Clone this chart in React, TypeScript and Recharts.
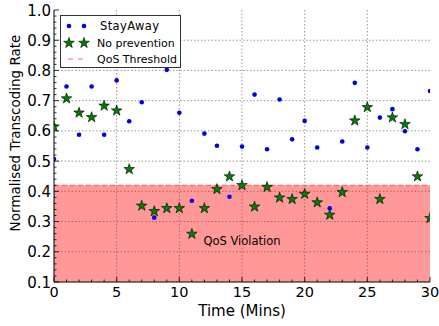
import {
  ScatterChart,
  Scatter,
  XAxis,
  YAxis,
  CartesianGrid,
  ReferenceArea,
  ReferenceLine,
  ReferenceDot,
  Legend,
} from 'recharts'

const FONT = '"DejaVu Sans", sans-serif'

const TIME = [0, 1, 2, 3, 4, 5, 6, 7, 8, 9, 10, 11, 12, 13, 14, 15, 16, 17, 18, 19, 20, 21, 22, 23, 24, 25, 26, 27, 28, 29, 30]
const STAY_AWAY = [0.507, 0.747, 0.587, 0.747, 0.587, 0.767, 0.632, 0.695, 0.313, 0.802, 0.66, 0.369, 0.591, 0.551, 0.382, 0.548, 0.72, 0.539, 0.704, 0.572, 0.633, 0.545, 0.344, 0.565, 0.759, 0.545, 0.644, 0.672, 0.599, 0.539, 0.732]
const NO_PREVENTION = [0.614, 0.707, 0.66, 0.645, 0.683, 0.667, 0.473, 0.352, 0.334, 0.344, 0.344, 0.259, 0.344, 0.407, 0.449, 0.42, 0.349, 0.414, 0.379, 0.374, 0.391, 0.363, 0.322, 0.397, 0.634, 0.678, 0.374, 0.644, 0.622, 0.449, 0.311]
const QOS_THRESHOLD = 0.42

const X_TICKS = [0, 5, 10, 15, 20, 25, 30]
const Y_TICKS = [0.1, 0.2, 0.3, 0.4, 0.5, 0.6, 0.7, 0.8, 0.9, 1.0]
const X_MINOR = TIME
const Y_MINOR = Array.from({ length: 46 }, (_, i) => +(0.1 + i * 0.02).toFixed(2))

const stayAwayData = TIME.map((t, i) => ({ t, v: STAY_AWAY[i] }))
const noPreventionData = TIME.map((t, i) => ({ t, v: NO_PREVENTION[i] }))

const isMajorX = (v: number) => X_TICKS.includes(v)
const isMajorY = (v: number) => Y_TICKS.some((m) => Math.abs(m - v) < 1e-6)

function starPoints(cx: number, cy: number, R: number, r: number) {
  const pts: string[] = []
  for (let i = 0; i < 10; i++) {
    const rad = i % 2 === 0 ? R : r
    const a = -Math.PI / 2 + (i * Math.PI) / 5
    pts.push(`${cx + rad * Math.cos(a)},${cy + rad * Math.sin(a)}`)
  }
  return pts.join(' ')
}

const Star = (p: any) => (
  <polygon points={starPoints(p.cx, p.cy, 5.6, 2.2)} fill="#008000" stroke="#000" strokeWidth={0.6} />
)
const Dot = (p: any) => <circle cx={p.cx} cy={p.cy} r={2.3} fill="#0000e6" />

const BottomTick = (p: any) => {
  const v = p.payload.value
  const major = isMajorX(v)
  return (
    <g>
      <line x1={p.x} x2={p.x} y1={p.y} y2={p.y - (major ? 5 : 2.5)} stroke="#000" strokeWidth={0.8} />
      {major && (
        <text x={p.x} y={p.y + 14.5} textAnchor="middle" fontSize={14.5} fontFamily={FONT} fill="#000">
          {v}
        </text>
      )}
    </g>
  )
}
const TopTick = (p: any) => (
  <line x1={p.x} x2={p.x} y1={p.y} y2={p.y + (isMajorX(p.payload.value) ? 5 : 2.5)} stroke="#000" strokeWidth={0.8} />
)
const LeftTick = (p: any) => {
  const v = p.payload.value
  const major = isMajorY(v)
  return (
    <g>
      <line x1={p.x} x2={p.x + (major ? 5 : 2.5)} y1={p.y} y2={p.y} stroke="#000" strokeWidth={0.8} />
      {major && (
        <text x={p.x - 3} y={p.y + 5.5} textAnchor="end" fontSize={15} fontFamily={FONT} fill="#000">
          {v.toFixed(1)}
        </text>
      )}
    </g>
  )
}
const RightTick = (p: any) => (
  <line x1={p.x} x2={p.x - (isMajorY(p.payload.value) ? 5 : 2.5)} y1={p.y} y2={p.y} stroke="#000" strokeWidth={0.8} />
)

const LegendBox = () => (
  <svg width={121} height={53} style={{ display: 'block', background: '#fff', border: '1px solid #333', boxSizing: 'border-box' }}>
    <circle cx={8} cy={10} r={2.3} fill="#0000e6" />
    <circle cx={23} cy={10} r={2.3} fill="#0000e6" />
    <text x={39} y={14} fontSize={11.5} fontFamily={FONT} letterSpacing={0.4}>StayAway</text>
    <polygon points={starPoints(8, 27, 5.6, 2.2)} fill="#008000" stroke="#000" strokeWidth={0.6} />
    <polygon points={starPoints(23, 27, 5.6, 2.2)} fill="#008000" stroke="#000" strokeWidth={0.6} />
    <text x={36} y={31} fontSize={11} fontFamily={FONT}>No prevention</text>
    <line x1={7} x2={22} y1={43} y2={43} stroke="#ff6666" strokeDasharray="5 5" />
    <text x={36} y={47} fontSize={11} fontFamily={FONT}>QoS Threshold</text>
  </svg>
)

export default function App() {
  return (
    <div style={{ position: 'absolute', left: 0, top: 0, width: 439, height: 326, background: '#fff' }}>
      <ScatterChart width={439} height={326} margin={{ top: 10, right: 9, bottom: 0, left: 0 }}>
        <XAxis
          dataKey="t"
          type="number"
          domain={[0, 30]}
          ticks={X_MINOR}
          interval={0}
          allowDataOverflow
          height={44}
          tickSize={0}
          tickMargin={0}
          tickLine={false}
          axisLine={{ stroke: '#000' }}
          tick={BottomTick}
          label={{
            content: (lp: any) => (
              <text
                x={lp.viewBox.x + lp.viewBox.width / 2}
                y={lp.viewBox.y + 34}
                textAnchor="middle"
                fontSize={15}
                fontFamily={FONT}
                fill="#000"
              >
                Time (Mins)
              </text>
            ),
          }}
        />
        <XAxis
          xAxisId="t"
          orientation="top"
          type="number"
          domain={[0, 30]}
          ticks={X_MINOR}
          interval={0}
          height={0}
          tickSize={0}
          tickMargin={0}
          tickLine={false}
          axisLine={{ stroke: '#000' }}
          tick={TopTick}
        />
        <YAxis
          dataKey="v"
          type="number"
          domain={[0.1, 1.0]}
          ticks={Y_MINOR}
          interval={0}
          allowDataOverflow
          width={54}
          tickSize={0}
          tickMargin={0}
          tickLine={false}
          axisLine={{ stroke: '#000' }}
          tick={LeftTick}
          label={{
            content: (lp: any) => {
              const x = lp.viewBox.x + 15
              const y = lp.viewBox.y + lp.viewBox.height / 2 - 13
              return (
                <text
                  x={x}
                  y={y}
                  transform={`rotate(-90, ${x}, ${y})`}
                  textAnchor="middle"
                  dominantBaseline="central"
                  fontSize={13.5}
                  fontFamily={FONT}
                  fill="#000"
                >
                  Normalised Transcoding Rate
                </text>
              )
            },
          }}
        />
        <YAxis
          yAxisId="r"
          orientation="right"
          type="number"
          domain={[0.1, 1.0]}
          ticks={Y_MINOR}
          interval={0}
          width={0}
          tickSize={0}
          tickMargin={0}
          tickLine={false}
          axisLine={{ stroke: '#000' }}
          tick={RightTick}
        />
        <CartesianGrid
          stroke="#999"
          strokeDasharray="1.5 2"
          horizontalValues={[0.2, 0.3, 0.4, 0.5, 0.6, 0.7, 0.8, 0.9]}
          verticalValues={[5, 10, 15, 20, 25]}
        />
        <ReferenceArea y1={0.1} y2={QOS_THRESHOLD} fill="#ff0000" fillOpacity={0.4} stroke="none" />
        <ReferenceLine y={QOS_THRESHOLD} stroke="#ff5555" strokeDasharray="5 3" />
        <ReferenceDot
          x={15}
          y={0.236}
          r={0}
          fill="none"
          stroke="none"
          label={{ value: 'QoS Violation', position: 'center', fontSize: 11.5, fontFamily: FONT, fill: '#000' }}
        />
        <Scatter name="StayAway" data={stayAwayData} shape={Dot} isAnimationActive={false} />
        <Scatter name="No prevention" data={noPreventionData} shape={Star} isAnimationActive={false} />
        <Legend
          layout="horizontal"
          verticalAlign="middle"
          align="center"
          content={LegendBox}
          wrapperStyle={{ left: 60, top: 15, width: 121, height: 53 }}
        />
      </ScatterChart>
    </div>
  )
}
